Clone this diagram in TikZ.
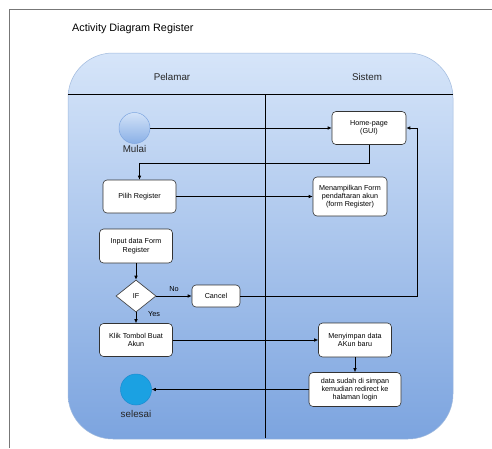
\documentclass[tikz,border=0pt]{standalone}
\usepackage{fontspec}
\setmainfont{Liberation Sans}
\usetikzlibrary{arrows.meta,shapes.geometric,calc}
\definecolor{laneTop}{HTML}{D6E5F9}
\definecolor{laneBot}{HTML}{7CA4DF}
\definecolor{laneEdge}{HTML}{9FB9DD}
\definecolor{startTop}{HTML}{D2E2F8}
\definecolor{startBot}{HTML}{8AB0E6}
\definecolor{startEdge}{HTML}{7EA6E0}
\definecolor{endFill}{HTML}{1BA1E2}
\definecolor{endEdge}{HTML}{1A8BD0}
\definecolor{frameGray}{HTML}{777777}
\tikzset{
  actbox/.style={draw=black!80, fill=white, rounded corners=4pt, line width=0.6pt,
    align=center, inner sep=0pt, font=\fontsize{7.2}{8.3}\selectfont},
  decis/.style={draw=black!80, fill=white, diamond, line width=0.6pt, inner sep=0pt,
    minimum width=40pt, minimum height=32pt, font=\fontsize{7.2}{8.3}\selectfont},
  arr/.style={draw=black, line width=0.7pt, -{Latex[length=4pt,width=3.6pt]}},
  lbl/.style={font=\fontsize{7.3}{8.5}\selectfont, inner sep=0pt},
  biglbl/.style={font=\fontsize{9.8}{11}\selectfont, inner sep=0pt, text=black!85},
}
\begin{document}
\begin{tikzpicture}[x=1pt,y=-1pt]
\useasboundingbox (0,0) rectangle (492,448);
% outer frame
\draw[frameGray, line width=0.8pt] (9,448) -- (9,9) -- (492,9);
\node[anchor=west, inner sep=0pt, font=\fontsize{10.8}{12}\selectfont] (title) at (72,29) {Activity Diagram Register};
% swimlane container
\path[top color=laneTop, bottom color=laneBot, draw=laneEdge, line width=0.5pt, rounded corners=45pt]
  (68,53) rectangle (453,439);
\coordinate (hl) at (68,94);
\coordinate (hr) at (453,94);
\coordinate (dt) at (265,94);
\coordinate (db) at (265,438);
\draw[black, line width=0.9pt] (hl) -- (hr);
\draw[black, line width=0.9pt] (dt) -- (db);
\node[biglbl] (pel) at (172,77) {Pelamar};
\node[biglbl] (sis) at (367,77) {Sistem};
% nodes
\node[circle, minimum size=31pt, inner sep=0pt, draw=startEdge, line width=0.5pt, top color=startTop, bottom color=startBot] (start) at (134.5,128) {};
\node[biglbl] (mulai) at (134.5,149) {Mulai};
\node[actbox, minimum width=74pt, minimum height=33pt] (home) at (369,128) {Home-page\\(GUI)};
\node[actbox, minimum width=73pt, minimum height=33pt] (pilih) at (139.5,196.5) {Pilih Register};
\node[actbox, minimum width=74pt, minimum height=39pt] (tampil) at (350,196.5) {Menampilkan Form\\pendaftaran akun\\(form Register)};
\node[actbox, minimum width=73pt, minimum height=34pt] (input) at (136,246) {Input data Form\\Register};
\node[decis] (if) at (136,296) {IF};
\node[actbox, minimum width=48pt, minimum height=22pt] (cancel) at (216,296) {Cancel};
\node[actbox, minimum width=73pt, minimum height=33pt] (klik) at (136,340) {Klik Tombol Buat\\Akun};
\node[actbox, minimum width=73pt, minimum height=34pt] (simpan) at (355,340) {Menyimpan data\\AKun baru};
\node[actbox, minimum width=92pt, minimum height=34pt] (data) at (355,389.5) {data sudah di simpan\\kemudian redirect ke\\halaman login};
\node[circle, minimum size=31pt, inner sep=0pt, draw=endEdge, fill=endFill, line width=0.5pt] (end) at (136,389.5) {};
\node[biglbl] (selesai) at (136,414) {selesai};
% connectors
\draw[arr] (start) -- (home.west);
\draw[arr] (home.south) |- (139.5,163) -- (pilih.north);
\draw[arr] (pilih.east) -- (tampil.west);
\draw[arr] (input.south) -- (if.north);
\draw[arr] (if.east) -- node[lbl, above=4pt] (no) {No} (cancel.west);
\draw[arr] (if.south) -- (klik.north);
\node[lbl] (yes) at (154,314.5) {Yes};
\draw[arr] (cancel.east) -| (417,128) -- (home.east);
\draw[arr] (klik.east) -- (simpan.west);
\draw[arr] (simpan.south) -- (data.north);
\draw[arr] (data.west) -- (end);
\end{tikzpicture}
\end{document}
